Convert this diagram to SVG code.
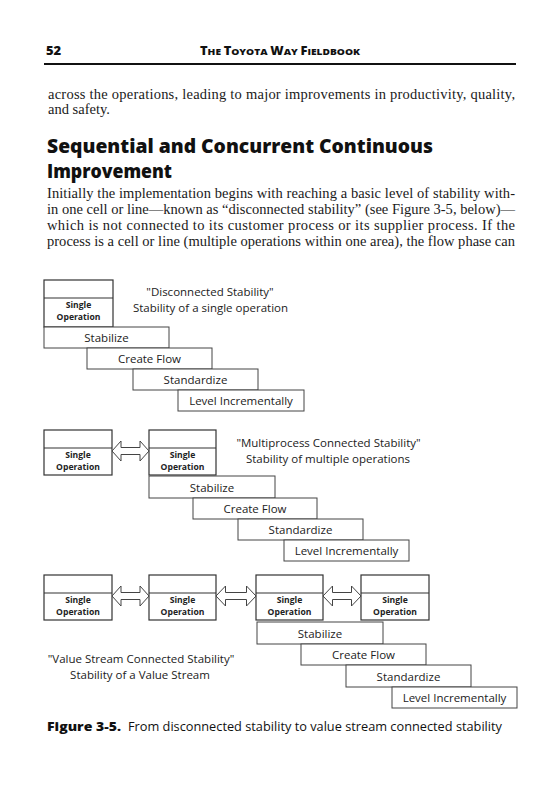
<svg xmlns="http://www.w3.org/2000/svg" width="558" height="800" viewBox="0 0 558 800">
<defs>
<style>
.bg{fill:#ffffff}
.serif{font-family:"Liberation Serif","Times New Roman",serif;font-size:14.5px;fill:#1a1a1a}
.head{font-family:"Open Sans","Liberation Sans",sans-serif;font-weight:800;font-size:20px;fill:#111}
.hdr{font-family:"Open Sans","Liberation Sans",sans-serif;font-weight:800;fill:#111}
.lbl{font-family:"Open Sans","Liberation Sans",sans-serif;font-size:11.5px;fill:#222;text-anchor:middle}
.op{font-family:"Open Sans","Liberation Sans",sans-serif;font-size:8.6px;font-weight:bold;fill:#222;text-anchor:middle}
.box{fill:#fff;stroke:#444;stroke-width:1}
.opbox{fill:#fff;stroke:#333;stroke-width:1.2}
.arrow{fill:#fff;stroke:#444;stroke-width:1}
.cap{font-family:"Open Sans","Liberation Sans",sans-serif;font-size:12.5px;fill:#111}
</style>
</defs>
<rect class="bg" x="0" y="0" width="558" height="800"/>

<g id="page-header">
<text class="hdr" x="46" y="55" font-size="13">52</text>
<text class="hdr" x="200" y="55" textLength="160" lengthAdjust="spacingAndGlyphs"><tspan font-size="12">T</tspan><tspan font-size="9.5">HE </tspan><tspan font-size="12">T</tspan><tspan font-size="9.5">OYOTA </tspan><tspan font-size="12">W</tspan><tspan font-size="9.5">AY </tspan><tspan font-size="12">F</tspan><tspan font-size="9.5">IELDBOOK</tspan></text>
<line x1="44" y1="64" x2="516" y2="64" stroke="#111" stroke-width="2"/>
</g>

<g id="body-text">
<text class="serif" x="48" y="99" textLength="467" lengthAdjust="spacing">across the operations, leading to major improvements in productivity, quality,</text>
<text class="serif" x="48" y="114">and safety.</text>
<text class="head" x="47" y="153" textLength="386" lengthAdjust="spacingAndGlyphs">Sequential and Concurrent Continuous</text>
<text class="head" x="47" y="178" textLength="125" lengthAdjust="spacingAndGlyphs">Improvement</text>
<text class="serif" x="47" y="198" textLength="468" lengthAdjust="spacing">Initially the implementation begins with reaching a basic level of stability with-</text>
<text class="serif" x="47" y="214" textLength="468" lengthAdjust="spacing">in one cell or line—known as “disconnected stability” (see Figure 3-5, below)—</text>
<text class="serif" x="47" y="230" textLength="468" lengthAdjust="spacing">which is not connected to its customer process or its supplier process. If the</text>
<text class="serif" x="47" y="246" textLength="468" lengthAdjust="spacing">process is a cell or line (multiple operations within one area), the flow phase can</text>
</g>

<!-- Section 1: Disconnected Stability -->
<g id="s1-op">
<rect class="opbox" x="44" y="280" width="69" height="47"/>
<line x1="44" y1="298" x2="113" y2="298" stroke="#333" stroke-width="1.2"/>
<text class="op" x="78.5" y="308">Single</text>
<text class="op" x="78.5" y="320">Operation</text>
</g>
<g id="s1-label">
<text class="lbl" x="210" y="296">"Disconnected Stability"</text>
<text class="lbl" x="210.5" y="312">Stability of a single operation</text>
</g>
<g id="s1-stabilize"><rect class="box" x="44" y="327" width="125" height="21"/><text class="lbl" x="106.5" y="342">Stabilize</text></g>
<g id="s1-createflow"><rect class="box" x="87" y="348" width="125" height="21"/><text class="lbl" x="149.5" y="363">Create Flow</text></g>
<g id="s1-standardize"><rect class="box" x="133" y="369" width="125" height="21"/><text class="lbl" x="195.5" y="384">Standardize</text></g>
<g id="s1-level"><rect class="box" x="178" y="390" width="126" height="21"/><text class="lbl" x="241" y="405">Level Incrementally</text></g>

<!-- Section 2: Multiprocess Connected Stability -->
<g id="s2-op1">
<rect class="opbox" x="44" y="430" width="68" height="45"/>
<line x1="44" y1="448" x2="112" y2="448" stroke="#333" stroke-width="1.2"/>
<text class="op" x="78" y="458">Single</text>
<text class="op" x="78" y="470">Operation</text>
</g>
<g id="s2-op2">
<rect class="opbox" x="149" y="430" width="67" height="45"/>
<line x1="149" y1="448" x2="216" y2="448" stroke="#333" stroke-width="1.2"/>
<text class="op" x="182.5" y="458">Single</text>
<text class="op" x="182.5" y="470">Operation</text>
</g>
<g id="s2-label">
<text class="lbl" x="328.5" y="447">"Multiprocess Connected Stability"</text>
<text class="lbl" x="328" y="463">Stability of multiple operations</text>
</g>
<g id="s2-stabilize"><rect class="box" x="149" y="476" width="126" height="22"/><text class="lbl" x="212" y="491.5">Stabilize</text></g>
<g id="s2-createflow"><rect class="box" x="193" y="498" width="124" height="21"/><text class="lbl" x="255" y="513">Create Flow</text></g>
<g id="s2-standardize"><rect class="box" x="238" y="519" width="125" height="21"/><text class="lbl" x="300.5" y="534">Standardize</text></g>
<g id="s2-level"><rect class="box" x="284" y="540" width="125" height="21"/><text class="lbl" x="346.5" y="555">Level Incrementally</text></g>

<!-- Section 3: Value Stream Connected Stability -->
<g id="s3-op1">
<rect class="opbox" x="44" y="575" width="68" height="45"/>
<line x1="44" y1="593" x2="112" y2="593" stroke="#333" stroke-width="1.2"/>
<text class="op" x="78" y="603">Single</text>
<text class="op" x="78" y="615">Operation</text>
</g>
<g id="s3-op2">
<rect class="opbox" x="149" y="575" width="67" height="45"/>
<line x1="149" y1="593" x2="216" y2="593" stroke="#333" stroke-width="1.2"/>
<text class="op" x="182.5" y="603">Single</text>
<text class="op" x="182.5" y="615">Operation</text>
</g>
<g id="s3-op3">
<rect class="opbox" x="256" y="575" width="67" height="45"/>
<line x1="256" y1="593" x2="323" y2="593" stroke="#333" stroke-width="1.2"/>
<text class="op" x="289.5" y="603">Single</text>
<text class="op" x="289.5" y="615">Operation</text>
</g>
<g id="s3-op4">
<rect class="opbox" x="361" y="575" width="68" height="45"/>
<line x1="361" y1="593" x2="429" y2="593" stroke="#333" stroke-width="1.2"/>
<text class="op" x="395" y="603">Single</text>
<text class="op" x="395" y="615">Operation</text>
</g>
<g id="s3-label">
<text class="lbl" x="141" y="663">"Value Stream Connected Stability"</text>
<text class="lbl" x="140" y="679">Stability of a Value Stream</text>
</g>
<g id="s3-stabilize"><rect class="box" x="257" y="622" width="126" height="22"/><text class="lbl" x="320" y="637.5">Stabilize</text></g>
<g id="s3-createflow"><rect class="box" x="301" y="644" width="125" height="21"/><text class="lbl" x="363.5" y="659">Create Flow</text></g>
<g id="s3-standardize"><rect class="box" x="346" y="665" width="125" height="22"/><text class="lbl" x="408.5" y="680.5">Standardize</text></g>
<g id="s3-level"><rect class="box" x="392" y="687" width="125" height="21"/><text class="lbl" x="454.5" y="702">Level Incrementally</text></g>

<g id="connectors">
<polygon class="arrow" points="112,451 121,441 121,447.5 140,447.5 140,441 149,451 140,461 140,454.5 121,454.5 121,461"/>
<polygon class="arrow" points="112,596 121,586 121,592.5 140,592.5 140,586 149,596 140,606 140,599.5 121,599.5 121,606"/>
<polygon class="arrow" points="216,596 225.5,586 225.5,592.5 246.5,592.5 246.5,586 256,596 246.5,606 246.5,599.5 225.5,599.5 225.5,606"/>
<polygon class="arrow" points="323,596 332.5,586 332.5,592.5 351.5,592.5 351.5,586 361,596 351.5,606 351.5,599.5 332.5,599.5 332.5,606"/>
</g>

<g id="caption">
<text class="cap" x="47" y="731" font-weight="800" textLength="74" lengthAdjust="spacingAndGlyphs">Figure 3-5.</text>
<text class="cap" x="128" y="731" textLength="374" lengthAdjust="spacingAndGlyphs">From disconnected stability to value stream connected stability</text>
</g>
</svg>
